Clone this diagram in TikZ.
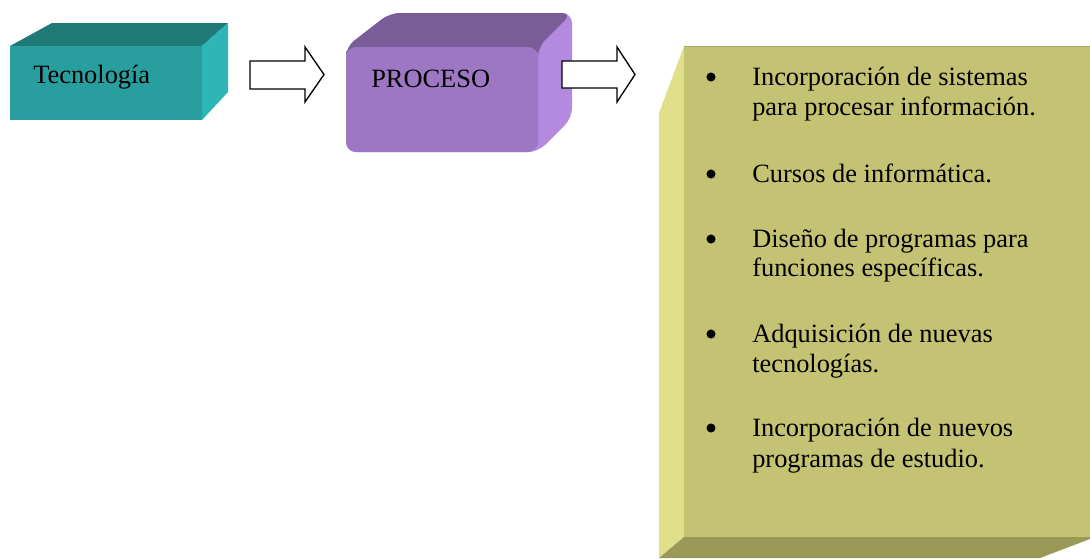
\documentclass[tikz,border=0pt]{standalone}
\usepackage{fontspec}
\setmainfont{Liberation Serif}
\definecolor{tecF}{HTML}{299E9E}
\definecolor{tecT}{HTML}{1F7A77}
\definecolor{tecR}{HTML}{2EB5B5}
\definecolor{proF}{HTML}{9E77C4}
\definecolor{proT}{HTML}{7A5C98}
\definecolor{proR}{HTML}{B48AE0}
\definecolor{boxF}{HTML}{C3C373}
\definecolor{boxL}{HTML}{E0E08A}
\definecolor{boxB}{HTML}{9A9A58}
\definecolor{boxE}{HTML}{A9A962}
\tikzset{
  txt/.style={inner sep=0pt, anchor=base west, font=\fontsize{19.8}{30}\selectfont},
  bul/.style={circle, fill=black, inner sep=0pt, minimum size=6.8pt},
  blockarrow/.style={draw=black, line width=1pt, fill=white, line join=miter},
}
\begin{document}
\begin{tikzpicture}[x=0.75pt,y=-0.75pt]
\useasboundingbox (0,0) rectangle (1090,558);
% Tecnologia box
\fill[tecT] (10,46) -- (52,23) -- (228,23) -- (202,46) -- cycle;
\fill[tecR] (202,46) -- (228,23) -- (228,92) -- (202,120) -- cycle;
\fill[tecF] (10,46) rectangle (202,120);
\node[txt] (tec) at (33,83) {Tecnología};
% arrow 1
\draw[blockarrow] (250,61) -- (305,61) -- (305,47) -- (324,74.5) -- (305,102) -- (305,89) -- (250,89) -- cycle;
% PROCESO box
\fill[proR, rounded corners=7.5pt] (346,47) -- (390,13) -- (572,13) -- (572,118) -- (538,152) -- (346,152) -- cycle;
\fill[proT, rounded corners=7.5pt] (346,60) -- (346,47) -- (390,13) -- (572,13) -- (538,47) -- (538,60) -- cycle;
\fill[proF, rounded corners=7.5pt] (346,47) rectangle (538,152);
\node[txt] (pro) at (371,87) {PROCESO};
% arrow 2
\draw[blockarrow] (562,61) -- (617,61) -- (617,47) -- (635,74.5) -- (617,102) -- (617,88) -- (562,88) -- cycle;
% big box
\fill[boxF] (684,46) rectangle (1090,537);
\fill[boxL] (684,46) -- (659,113) -- (659,558) -- (684,537) -- cycle;
\fill[boxB] (684,537) -- (1090,537) -- (1090,539) -- (1040,558) -- (659,558) -- cycle;
\draw[boxE, line width=0.8pt] (684,46.5) -- (1090,46.5);
% list
\node[bul] (b1) at (711,77) {};
\node[txt] (t1a) at (752,85) {Incorporación de sistemas};
\node[txt] (t1b) at (752,115) {para procesar información.};
\node[bul] (b2) at (711,174) {};
\node[txt] (t2a) at (752,182) {Cursos de informática.};
\node[bul] (b3) at (711,239) {};
\node[txt] (t3a) at (752,247) {Diseño de programas para};
\node[txt] (t3b) at (752,276) {funciones específicas.};
\node[bul] (b4) at (711,334) {};
\node[txt] (t4a) at (752,342) {Adquisición de nuevas};
\node[txt] (t4b) at (752,372) {tecnologías.};
\node[bul] (b5) at (711,428) {};
\node[txt] (t5a) at (752,436) {Incorporación de nuevos};
\node[txt] (t5b) at (752,467) {programas de estudio.};
\end{tikzpicture}
\end{document}
